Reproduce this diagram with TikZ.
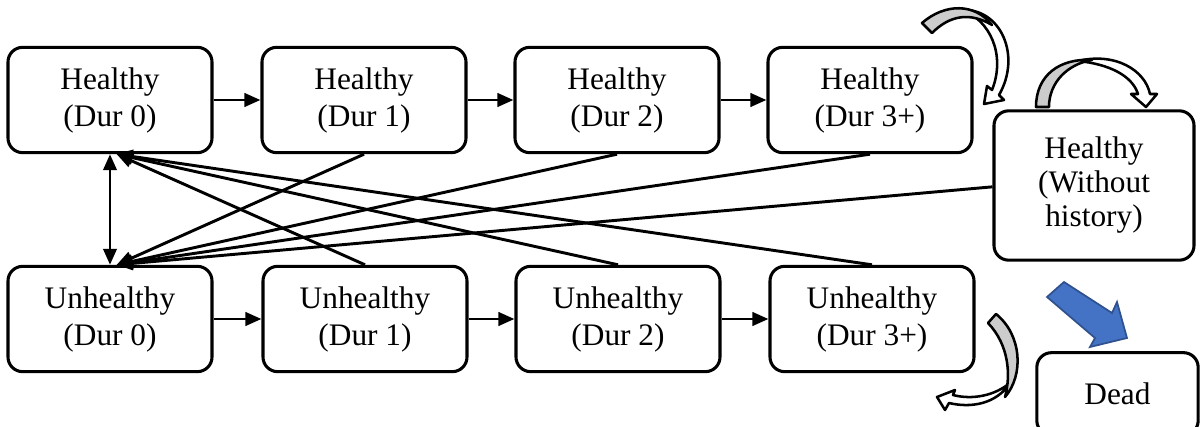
\documentclass[tikz,border=0pt]{standalone}
\usepackage{fontspec}
\setmainfont{Liberation Serif}
\newfontfamily\tnrfont{Liberation Serif}
\usetikzlibrary{arrows.meta}
\begin{document}
\begin{tikzpicture}[x=0.75pt,y=-0.75pt,
  box/.style={draw, line width=2.3pt, rounded corners=11pt, align=center,
    minimum width=153pt, minimum height=79pt, inner sep=0pt,
    font=\tnrfont\fontsize{23.5pt}{27.75pt}\selectfont},
  conn/.style={line width=2.2pt, -{Triangle[length=12pt,width=10pt]}},
  dconn/.style={line width=2.2pt, {Triangle[length=12pt,width=10pt]}-{Triangle[length=12pt,width=10pt]}},
  curvbody/.style={draw=black, fill=white, line width=1.9pt, line join=round},
  curvtail/.style={draw=black, fill=black!20, line width=1.9pt, line join=round},
  bluearrow/.style={draw={rgb,255:red,47;green,82;blue,143}, fill={rgb,255:red,68;green,114;blue,196}, line width=1.3pt, line join=miter}]
\clip (0,0) rectangle (1200,427);
% top row
\node[box] (h0) at (110,100) {Healthy\\(Dur 0)};
\node[box] (h1) at (364,100) {Healthy\\(Dur 1)};
\node[box] (h2) at (617,100) {Healthy\\(Dur 2)};
\node[box] (h3) at (870,100) {Healthy\\(Dur 3+)};
% bottom row
\node[box] (u0) at (110,319) {Unhealthy\\(Dur 0)};
\node[box] (u1) at (365,319) {Unhealthy\\(Dur 1)};
\node[box] (u2) at (618,319) {Unhealthy\\(Dur 2)};
\node[box] (u3) at (872,319) {Unhealthy\\(Dur 3+)};
% right nodes
\node[box, minimum width=150pt, minimum height=112pt,
  font=\tnrfont\fontsize{23.5pt}{25.5pt}\selectfont] (hw) at (1094,185.5) {Healthy\\(Without\\history)};
\node[box, minimum width=121pt, minimum height=62pt] (dead) at (1117.5,394) {Dead};
% horizontal arrows
\draw[conn] (h0) -- (h1);
\draw[conn] (h1) -- (h2);
\draw[conn] (h2) -- (h3);
\draw[conn] (u0) -- (u1);
\draw[conn] (u1) -- (u2);
\draw[conn] (u2) -- (u3);
% convergence points
\coordinate (h0b) at ([xshift=5pt]h0.south);
\coordinate (u0t) at ([xshift=5pt]u0.north);
\draw[dconn] (h0.south) -- (u0.north);
% unhealthy -> healthy dur 0
\draw[conn] (u1.north) -- (h0b);
\draw[conn] (u2.north) -- (h0b);
\draw[conn] (u3.north) -- (h0b);
% healthy -> unhealthy dur 0
\draw[conn] (h1.south) -- (u0t);
\draw[conn] (h2.south) -- (u0t);
\draw[conn] (h3.south) -- (u0t);
\draw[conn] ([yshift=-1pt]hw.west) -- (u0t);
% curved arrow over Healthy (Without history)
\draw[curvbody] (1078,61) .. controls (1115,52) and (1145,70) .. (1150,94)
  -- (1157,94) -- (1146,107) -- (1131,94) -- (1138,94)
  .. controls (1132,75) and (1108,64) .. (1078,61) -- cycle;
\draw[curvtail] (1036,107) .. controls (1036,75) and (1060,58) .. (1092,60)
  .. controls (1068,64) and (1049,82) .. (1049,107) -- cycle;
% curved arrow near Healthy (Dur 3+)
\draw[curvbody] (962,10) .. controls (1000,8) and (1022,55) .. (999,95)
  -- (1004,100) -- (984,104) -- (987,86) -- (992,90)
  .. controls (1006,55) and (990,20) .. (962,10) -- cycle;
\draw[curvtail] (922,23) .. controls (945,3) and (975,3) .. (992,25)
  .. controls (970,12) and (950,15) .. (932,33) -- cycle;
% curved arrow near Unhealthy (Dur 3+)
\draw[curvbody] (1011,382) .. controls (996,405) and (970,408) .. (949,403)
  -- (945,410) -- (937,397) -- (955,390) -- (953,395)
  .. controls (972,400) and (995,396) .. (1011,382) -- cycle;
\draw[curvtail] (988,323) -- (996,314) .. controls (1022,335) and (1024,375) .. (1005,397)
  .. controls (1011,375) and (1009,345) .. (988,323) -- cycle;
% blue arrow to Dead
\draw[bluearrow] (1064,282) -- (1112,313) -- (1117,302) -- (1127,338)
  -- (1090,347) -- (1095,338) -- (1047,297) -- cycle;
\end{tikzpicture}
\end{document}
